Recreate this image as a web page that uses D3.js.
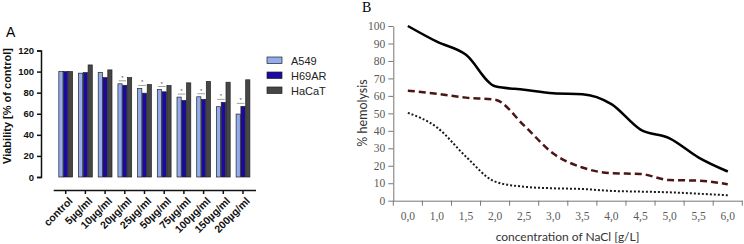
<!DOCTYPE html>
<html lang="en">
  <head>
    <meta charset="UTF-8" />
    <title>viability and hemolysis</title>
    <style type="text/css">
      body { margin: 0; background: #fff; }
      svg { display: block; }
    </style>
  </head>
  <body>
    <div id="chart"></div>
    <script src="https://d3js.org/d3.v7.min.js"></script>
    <script>
      // ---- panel A data ----
      var doses = ["control", "5µg/ml", "10µg/ml", "20µg/ml", "25µg/ml", "50µg/ml",
        "75µg/ml", "100µg/ml", "150µg/ml", "200µg/ml"];
      var cellLines = ["A549", "H69AR", "HaCaT"];
      var a549 = [100, 98.5, 99.3, 88.4, 84, 83, 75.8, 76.1, 66.7, 59.7];
      var h69ar = [100, 99, 94.3, 87, 79.5, 80.8, 72.6, 73.6, 70.8, 67];
      var hacat = [100, 106.3, 101.6, 94.3, 87.7, 86.8, 89.3, 90.6, 89.9, 92.2];
      var signif = [false, false, false, true, true, true, true, true, true, true];
      var viabTicks = [0, 20, 40, 60, 80, 100, 120];

      // ---- panel B data ----
      var nacl = ["0,0", "1,0", "1,5", "2,0", "2,5", "3,0", "3,5", "4,0", "4,5", "5,0", "5,5", "6,0"];
      var solidSeries = [100, 91, 83.5, 65.5, 63.5, 61.5, 61, 55.3, 40.7, 35.7, 24.7, 16.7];
      var dashedSeries = [63, 61.2, 59, 57.8, 43, 27, 19, 15.7, 15.3, 11.8, 11.5, 9.4];
      var dottedSeries = [50.3, 42, 25.2, 10.9, 8, 7.1, 6.7, 5.6, 5.2, 4.8, 4, 3.1];
      var hemoTicks = [0, 10, 20, 30, 40, 50, 60, 70, 80, 90, 100];

      var svg = d3.select("#chart").append("svg")
        .attr("width", 744).attr("height", 244);

      // =================== panel A ===================
      var gA = svg.append("g").attr("font-family", "'Liberation Sans', Arial, sans-serif");

      gA.append("text").attr("x", 6).attr("y", 37).attr("font-size", "14px").text("A");

      var xA = d3.scaleBand().domain(doses).range([53.2, 255.5]).padding(0.27);
      var xSub = d3.scaleBand().domain(cellLines).range([0, xA.bandwidth()]);
      var yA = d3.scaleLinear().domain([0, 120]).range([177, 50.5]);
      var colA = d3.scaleOrdinal().domain(cellLines).range(["#93aced", "#1a0aa3", "#464646"]);

      var yAxisA = gA.append("g").attr("transform", "translate(41,0)")
        .call(d3.axisLeft(yA).tickValues(viabTicks).tickSize(4).tickPadding(3));
      yAxisA.selectAll("path, line").attr("stroke", "#111").attr("stroke-width", 1.5);
      yAxisA.selectAll("text").attr("font-size", "9.5px").attr("font-weight", "bold")
        .attr("font-family", "'Liberation Sans', Arial, sans-serif").attr("fill", "#111");

      var xAxisA = gA.append("g").attr("transform", "translate(0,190)")
        .call(d3.axisBottom(xA).tickSize(4).tickSizeOuter(0));
      xAxisA.selectAll("path, line").attr("stroke", "#111").attr("stroke-width", 1.5);
      xAxisA.selectAll("text")
        .attr("font-size", "10.5px").attr("font-weight", "bold")
        .attr("font-family", "'Liberation Sans', Arial, sans-serif").attr("fill", "#111")
        .attr("text-anchor", "end")
        .attr("transform", "translate(5,9) rotate(-45)")
        .attr("x", 0).attr("y", 0).attr("dy", "0.35em");

      gA.append("text")
        .attr("transform", "translate(11,106) rotate(-90)")
        .attr("text-anchor", "middle").attr("font-size", "11px").attr("font-weight", "bold")
        .attr("fill", "#111")
        .text("Viability [% of control]");

      var rows = doses.map(function (d, i) {
        return { dose: d, A549: a549[i], H69AR: h69ar[i], HaCaT: hacat[i], sig: signif[i] };
      });

      var groups = gA.selectAll(".grp").data(rows).enter().append("g")
        .attr("class", "grp")
        .attr("transform", function (d) { return "translate(" + xA(d.dose) + ",0)"; });

      groups.selectAll("rect")
        .data(function (d) { return cellLines.map(function (k) { return { key: k, value: d[k] }; }); })
        .enter().append("rect")
        .attr("x", function (d) { return xSub(d.key) + 0.3; })
        .attr("y", function (d) { return yA(d.value); })
        .attr("width", xSub.bandwidth() - 0.6)
        .attr("height", function (d) { return yA(0) - yA(d.value); })
        .attr("fill", function (d) { return colA(d.key); })
        .attr("stroke", "#222").attr("stroke-width", 0.7);

      // significance marks over A549 / H69AR
      var sigG = groups.filter(function (d) { return d.sig; });
      sigG.append("line")
        .attr("x1", xSub("A549") + 1).attr("x2", xSub("H69AR") + xSub.bandwidth() - 1)
        .attr("y1", function (d) { return yA(Math.max(d.A549, d.H69AR)) - 3; })
        .attr("y2", function (d) { return yA(Math.max(d.A549, d.H69AR)) - 3; })
        .attr("stroke", "#777").attr("stroke-width", 0.7);
      sigG.append("text")
        .attr("x", xSub("H69AR"))
        .attr("y", function (d) { return yA(Math.max(d.A549, d.H69AR)) - 4; })
        .attr("text-anchor", "middle").attr("font-size", "6px").attr("fill", "#555")
        .text("*");

      // legend
      var legA = gA.selectAll(".leg").data(cellLines).enter().append("g")
        .attr("class", "leg")
        .attr("transform", function (d, i) { return "translate(267," + (57 + i * 15) + ")"; });
      legA.append("rect").attr("width", 15).attr("height", 6.5)
        .attr("fill", function (d) { return colA(d); })
        .attr("stroke", "#222").attr("stroke-width", 0.7);
      legA.append("text").attr("x", 24).attr("y", 7.5).attr("font-size", "11px")
        .attr("fill", "#222").text(function (d) { return d; });

      // =================== panel B ===================
      var gB = svg.append("g");
      gB.append("text").attr("x", 362).attr("y", 12)
        .attr("font-family", "'Liberation Serif', 'Times New Roman', serif")
        .attr("font-size", "14px").text("B");

      var xB = d3.scaleBand().domain(nacl).range([393.3, 742.3]);
      var yB = d3.scaleLinear().domain([0, 100]).range([200.7, 26]);

      var yAxisB = gB.append("g").attr("transform", "translate(393.3,0)")
        .call(d3.axisLeft(yB).tickValues(hemoTicks).tickSize(5).tickSizeOuter(0).tickPadding(3));
      yAxisB.selectAll("path, line").attr("stroke", "#777").attr("stroke-width", 1);
      yAxisB.selectAll("text").attr("font-size", "11.5px")
        .attr("font-family", "'Liberation Serif', 'Times New Roman', serif").attr("fill", "#595959");

      var xAxisB = gB.append("g").attr("transform", "translate(0,200.7)")
        .call(d3.axisBottom(xB).tickSize(0).tickSizeOuter(0).tickPadding(11));
      xAxisB.select(".domain").attr("stroke", "#777");
      xAxisB.selectAll("text").attr("font-size", "11.5px")
        .attr("font-family", "'Liberation Serif', 'Times New Roman', serif").attr("fill", "#595959");
      // tick marks sit on the category boundaries
      xAxisB.selectAll(".bound").data(nacl.concat(["end"])).enter().append("line")
        .attr("class", "bound")
        .attr("x1", function (d, i) { return xB.range()[0] + i * xB.step(); })
        .attr("x2", function (d, i) { return xB.range()[0] + i * xB.step(); })
        .attr("y1", 0).attr("y2", 5)
        .attr("stroke", "#777");

      gB.append("text")
        .attr("transform", "translate(367,113) rotate(-90)")
        .attr("text-anchor", "middle")
        .attr("font-family", "Lato, 'Open Sans', sans-serif").attr("font-size", "12.5px")
        .attr("fill", "#333").text("% hemolysis");
      gB.append("text")
        .attr("x", 567.5).attr("y", 240.5)
        .attr("text-anchor", "middle")
        .attr("font-family", "Lato, 'Open Sans', sans-serif").attr("font-size", "12px")
        .attr("fill", "#333").text("concentration of NaCl [g/L]");

      var line = d3.line()
        .x(function (d, i) { return xB(nacl[i]) + xB.bandwidth() / 2; })
        .y(function (d) { return yB(d); })
        .curve(d3.curveMonotoneX);

      gB.append("path").datum(solidSeries).attr("d", line)
        .attr("fill", "none").attr("stroke", "#000").attr("stroke-width", 2.5);
      gB.append("path").datum(dashedSeries).attr("d", line)
        .attr("fill", "none").attr("stroke", "#4a1515").attr("stroke-width", 2.5)
        .attr("stroke-dasharray", "7,4");
      gB.append("path").datum(dottedSeries).attr("d", line)
        .attr("fill", "none").attr("stroke", "#1a1a1a").attr("stroke-width", 2)
        .attr("stroke-dasharray", "2,2");
    </script>
  </body>
</html>
